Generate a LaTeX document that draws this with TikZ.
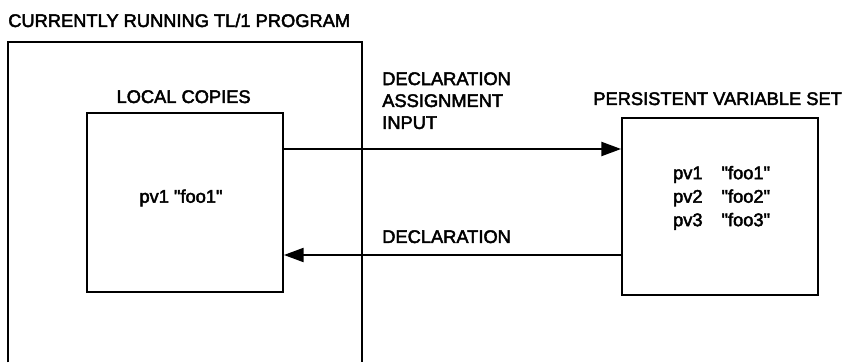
\documentclass[tikz,border=0pt]{standalone}
\usepackage{fontspec}
\setmainfont{Liberation Sans}[Ligatures=TeXOff,FakeBold=2.5]
\usetikzlibrary{arrows.meta}

\begin{document}
\begin{tikzpicture}[font=\fontsize{13}{15.6}\selectfont,
  box/.style={draw,line width=1.3pt,inner sep=0pt,minimum width=4.9cm},
  arr/.style={line width=1.3pt,-{Triangle[length=14pt,width=10pt]}}]
\useasboundingbox (0,0) rectangle (21.225,-9.075);
% program frame, open at the bottom
\node[inner sep=0pt,minimum width=8.85cm,minimum height=8cm] (prog) at (4.625,-5.05) {};
\draw[line width=1.3pt] (prog.south west) -- (prog.north west) -- (prog.north east) -- (prog.south east);
\node[anchor=base west,inner sep=0pt] (progt) at (0.2,-0.675) {CURRENTLY RUNNING TL/1 PROGRAM};
% the two boxes
\node[box,minimum height=4.475cm] (local) at (4.625,-5.0625) {};
\node[anchor=base,inner sep=0pt] (localt) at (4.59,-2.575) {LOCAL COPIES};
\node[inner sep=0pt] (localv) at (4.525,-4.95) {pv1 "foo1"};
\node[box,minimum height=4.425cm] (pset) at (18.0,-5.1625) {};
\node[anchor=base,inner sep=0pt] (psett) at (17.94,-2.625) {PERSISTENT VARIABLE SET};
\node[inner sep=0pt,font=\fontsize{13}{16.7}\selectfont] (psetv) at (18.04,-4.95)
  {\begin{tabular}{@{}l@{\hspace{13.5pt}}l@{}}pv1 & "foo1"\\ pv2 & "foo2"\\ pv3 & "foo3"\end{tabular}};
% connectors
\coordinate (sendy) at (0,-3.725);
\coordinate (backy) at (0,-6.375);
\draw[arr] (local.east |- sendy) -- (pset.west |- sendy);
\draw[arr] (pset.west |- backy) -- (local.east |- backy);
\node[anchor=north west,inner sep=0pt,align=left] (sendt) at (9.55,-1.8) {DECLARATION\\ASSIGNMENT\\INPUT};
\node[anchor=base west,inner sep=0pt] (backt) at (9.55,-6.075) {DECLARATION};
\end{tikzpicture}
\end{document}
